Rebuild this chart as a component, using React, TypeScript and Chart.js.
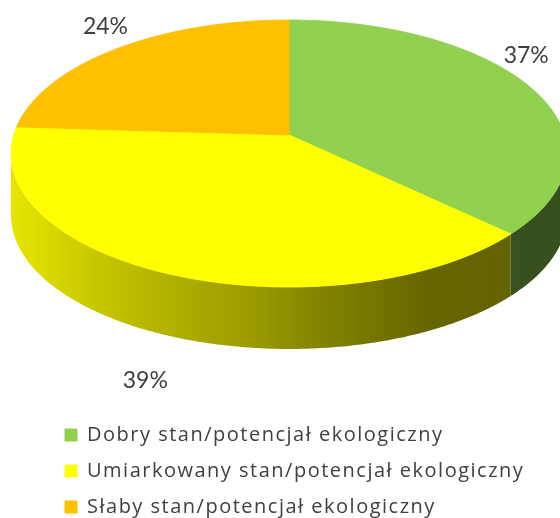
import React, { useEffect, useRef } from "react";
import { Chart, registerables } from "chart.js";

Chart.register(...registerables);

// ---------------- data ----------------
const categories = [
  "Dobry stan/potencjał ekologiczny",
  "Umiarkowany stan/potencjał ekologiczny",
  "Słaby stan/potencjał ekologiczny",
];
const shares = [37, 39, 24];
const sliceColors = ["#92D050", "#FFFF00", "#FFC000"];

// ---------------- styles / view ----------------
// pseudo-3D perspective view of the pie (vertex position, radii, perspective, wall depth)
const VIEW = { cx: 289, cy: 135, rx: 275.3, ry: 130.9, persp: 0.1386, depth: 62 };
const TEXT_COLOR = "#404040";
const LABEL_FONT_FAMILY = "Lato, 'Open Sans', sans-serif";
const LEGEND_FONT_FAMILY = "'Open Sans', Lato, sans-serif";
const LABEL_SIZE = 23;
const LEGEND_SIZE = 20;
const LEGEND_TRACKING = "1.5px";
// shading of the side wall across its width (fraction of width, brightness)
const SIDE_SHADE: [number, number][] = [
  [0, 0.9],
  [0.09, 0.83],
  [0.17, 0.77],
  [0.34, 0.66],
  [0.43, 0.61],
  [0.52, 0.54],
  [0.66, 0.45],
  [0.75, 0.4],
  [1, 0.38],
];
const LABEL_SPREAD = { u: 1.1, v: 1.28 };
const LABEL_EDGE = 11;

const TAU = Math.PI * 2;

function hexToRgb(h: string): [number, number, number] {
  const s = h.replace("#", "");
  return [
    parseInt(s.slice(0, 2), 16),
    parseInt(s.slice(2, 4), 16),
    parseInt(s.slice(4, 6), 16),
  ];
}

function projector(ox: number, oy: number, R: number) {
  return (x: number, y: number, lift = 0): [number, number] => {
    const u = (x - ox) / R;
    const v = -(y - oy) / R;
    const d = 1 + VIEW.persp * v;
    return [VIEW.cx + (VIEW.rx * u) / d, VIEW.cy - (VIEW.ry * v) / d + lift];
  };
}

const pie3d = {
  id: "pie3d",
  beforeUpdate(chart: any) {
    (chart.ctx as any).letterSpacing = LEGEND_TRACKING;
  },
  beforeDraw(chart: any) {
    (chart.ctx as any).letterSpacing = LEGEND_TRACKING;
  },
  beforeDatasetsDraw(chart: any) {
    const meta = chart.getDatasetMeta(0);
    const arcs = meta.data;
    if (!arcs.length) return;
    const ox = arcs[0].x;
    const oy = arcs[0].y;
    const R = arcs[0].outerRadius;
    const P = projector(ox, oy, R);
    const ctx: any = chart.ctx;

    // side walls (front, visible part of the cylinder)
    const lo = Math.asin(VIEW.persp);
    const hi = Math.PI - lo;
    const gx0 = VIEW.cx - VIEW.rx * 1.01;
    const gx1 = VIEW.cx + VIEW.rx * 1.01;
    arcs.forEach((arc: any, i: number) => {
      const s = Math.max(arc.startAngle, lo);
      const e = Math.min(arc.endAngle, hi);
      if (e <= s) return;
      const n = Math.max(4, Math.ceil((e - s) / 0.008));
      ctx.beginPath();
      for (let k = 0; k <= n; k++) {
        const t = s + ((e - s) * k) / n;
        const [X, Y] = P(ox + R * Math.cos(t), oy + R * Math.sin(t));
        ctx.lineTo(X, Y);
      }
      for (let k = n; k >= 0; k--) {
        const t = s + ((e - s) * k) / n;
        const [X, Y] = P(ox + R * Math.cos(t), oy + R * Math.sin(t), VIEW.depth);
        ctx.lineTo(X, Y);
      }
      ctx.closePath();
      const [r, g, b] = hexToRgb(sliceColors[i % sliceColors.length]);
      const grad = ctx.createLinearGradient(gx0, 0, gx1, 0);
      SIDE_SHADE.forEach(([p, f]) => {
        grad.addColorStop(
          p,
          `rgb(${Math.round(r * f)},${Math.round(g * f)},${Math.round(b * f)})`
        );
      });
      ctx.fillStyle = grad;
      ctx.fill();
    });

    // project the library's own slice paths onto the tilted plane
    const lineTo = CanvasRenderingContext2D.prototype.lineTo;
    const moveTo = CanvasRenderingContext2D.prototype.moveTo;
    ctx.lineTo = function (x: number, y: number) {
      const [X, Y] = P(x, y);
      lineTo.call(ctx, X, Y);
    };
    ctx.moveTo = function (x: number, y: number) {
      const [X, Y] = P(x, y);
      moveTo.call(ctx, X, Y);
    };
    ctx.arc = function (
      x: number,
      y: number,
      r: number,
      a0: number,
      a1: number,
      ccw?: boolean
    ) {
      if (![x, y, r, a0, a1].every(Number.isFinite)) return;
      if (r <= 0) {
        const [X, Y] = P(x, y);
        lineTo.call(ctx, X, Y);
        return;
      }
      let sweep = ccw ? a0 - a1 : a1 - a0;
      if (sweep >= TAU) sweep = TAU;
      else {
        sweep = sweep % TAU;
        if (sweep < 0) sweep += TAU;
      }
      if (ccw) sweep = -sweep;
      const n = Math.max(2, Math.ceil(Math.abs(sweep) / 0.006));
      for (let k = 0; k <= n; k++) {
        const a = a0 + (sweep * k) / n;
        const [X, Y] = P(x + r * Math.cos(a), y + r * Math.sin(a));
        lineTo.call(ctx, X, Y);
      }
    };
  },
  afterDatasetsDraw(chart: any) {
    const ctx: any = chart.ctx;
    delete ctx.lineTo;
    delete ctx.moveTo;
    delete ctx.arc;

    const meta = chart.getDatasetMeta(0);
    const arcs = meta.data;
    if (!arcs.length) return;
    const ox = arcs[0].x;
    const oy = arcs[0].y;
    const R = arcs[0].outerRadius;
    const P = projector(ox, oy, R);
    const values: number[] = chart.data.datasets[0].data;
    const total = values.reduce((a, b) => a + b, 0);

    ctx.save();
    ctx.letterSpacing = "0px";
    ctx.font = `${LABEL_SIZE}px ${LABEL_FONT_FAMILY}`;
    ctx.fillStyle = TEXT_COLOR;
    ctx.textAlign = "center";
    ctx.textBaseline = "middle";
    const pos = (t: number): [number, number] => {
      const x = ox + R * LABEL_SPREAD.u * Math.cos(t);
      const y = oy + R * LABEL_SPREAD.v * Math.sin(t);
      const lift = Math.sin(t) > VIEW.persp ? VIEW.depth : 0;
      return P(x, y, lift);
    };
    arcs.forEach((arc: any, i: number) => {
      const text = `${Math.round((values[i] / total) * 100)}%`;
      const w = ctx.measureText(text).width;
      let t = (arc.startAngle + arc.endAngle) / 2;
      const minX = w / 2 + LABEL_EDGE;
      const maxX = chart.width - w / 2 - LABEL_EDGE;
      let [X, Y] = pos(t);
      const dir = Math.cos(t) > 0 ? -1 : 1;
      let guard = 0;
      while ((X > maxX || X < minX) && guard < 400) {
        t += dir * 0.004;
        [X, Y] = pos(t);
        guard++;
      }
      ctx.fillText(text, X, Y);
    });
    ctx.restore();
  },
};

export default function App() {
  const ref = useRef<HTMLCanvasElement | null>(null);

  useEffect(() => {
    if (!ref.current) return;
    const chart = new Chart(ref.current, {
      type: "pie",
      data: {
        labels: categories,
        datasets: [
          {
            data: shares,
            backgroundColor: sliceColors,
            borderColor: sliceColors,
            borderWidth: 1,
            hoverOffset: 0,
            clip: false as any,
          } as any,
        ],
      },
      options: {
        responsive: false,
        animation: false,
        events: [],
        layout: { padding: { left: 49, right: 0, top: 0, bottom: 0 } },
        plugins: {
          legend: {
            position: "bottom",
            align: "start",
            labels: {
              boxWidth: 12,
              boxHeight: 12,
              padding: 16,
              color: TEXT_COLOR,
              font: { family: LEGEND_FONT_FAMILY, size: LEGEND_SIZE },
            },
          },
          tooltip: { enabled: false },
        },
      },
      plugins: [pie3d as any],
    });
    return () => chart.destroy();
  }, []);

  return (
    <div
      style={{
        position: "fixed",
        left: 0,
        top: 0,
        width: 560,
        height: 518,
        overflow: "hidden",
        background: "#ffffff",
      }}
    >
      <canvas ref={ref} width={560} height={527} style={{ display: "block" }} />
    </div>
  );
}
